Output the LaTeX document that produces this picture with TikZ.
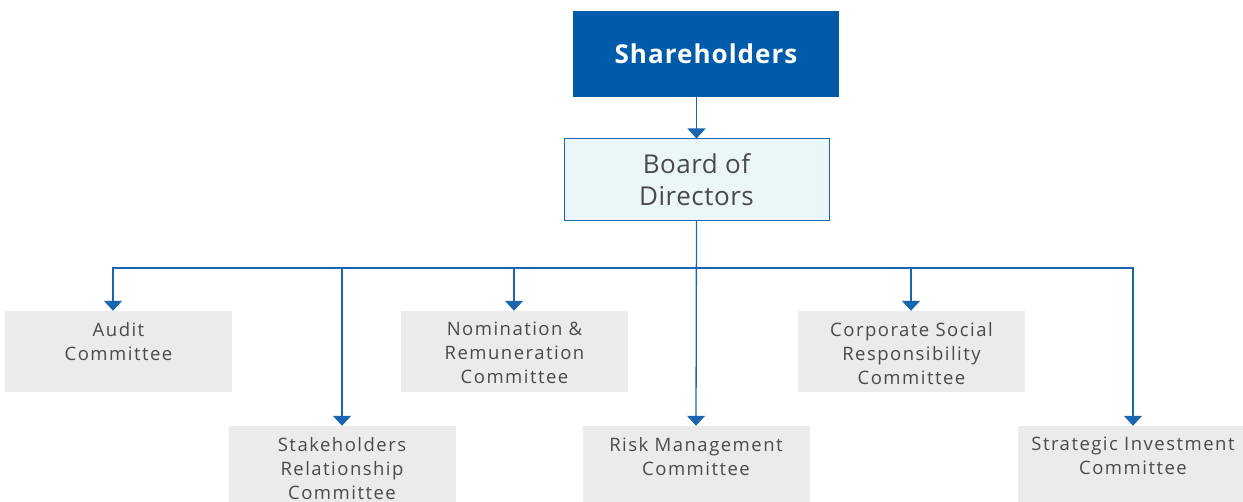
\documentclass[tikz,border=0pt]{standalone}
\usepackage{fontspec}
\setmainfont{Open Sans}
\usetikzlibrary{arrows.meta}
\definecolor{navy}{HTML}{005BAA}
\definecolor{lineblue}{HTML}{1A65B0}
\definecolor{boardfill}{HTML}{EBF6F8}
\definecolor{grayfill}{HTML}{EBEBEB}
\definecolor{txt}{HTML}{4A4A4A}
\begin{document}
\begin{tikzpicture}[x=1pt,y=-1pt,
  conn/.style={draw=lineblue, line width=1.3pt, -{Triangle[width=18pt,length=10pt]}},
  combox/.style={fill=grayfill, draw=none, minimum width=227pt, minimum height=81pt, inner sep=0pt},
  comtext/.style={anchor=north, inner sep=0pt, align=center, text=txt, font=\fontsize{18.5}{24}\selectfont\addfontfeatures{LetterSpace=8}},
]
\useasboundingbox (0,0) rectangle (1243,502);
\node[fill=navy, minimum width=266pt, minimum height=86pt, inner sep=0pt, text=white,
      font=\bfseries\fontsize{26}{30}\selectfont\addfontfeatures{LetterSpace=4}] (sh) at (706,54) {Shareholders};
\node[fill=boardfill, draw=lineblue, line width=1pt, minimum width=265pt, minimum height=82pt, inner sep=0pt,
      text=txt, align=center, font=\fontsize{26}{32}\selectfont\addfontfeatures{LetterSpace=2}] (board) at (696.5,180) {Board of\\Directors};
\coordinate (bus) at (0,268);
% committee boxes
\node[combox] (audit) at (118.5,351.5) {};
\node[combox] (stake) at (342,466.5) {};
\node[combox] (nom) at (514.5,351.5) {};
\node[combox] (risk) at (696,466.5) {};
\node[combox] (csr) at (911.5,351.5) {};
\node[combox, minimum width=230pt] (strat) at (1133,466.5) {};
% texts
\node[comtext, yshift=-11pt] (audittxt) at (audit.north) {Audit\\Committee};
\node[comtext, yshift=-11pt] (staketxt) at (stake.north) {Stakeholders\\Relationship\\Committee};
\node[comtext, yshift=-11pt] (nomtxt) at (nom.north) {Nomination \&\\Remuneration\\Committee};
\node[comtext, yshift=-11pt] (risktxt) at (risk.north) {Risk Management\\Committee};
\node[comtext, yshift=-11pt] (csrtxt) at (csr.north) {Corporate Social\\Responsibility\\Committee};
\node[comtext, yshift=-11pt] (strattxt) at (strat.north) {Strategic Investment\\Committee};
% connectors
\draw[conn] (sh.south -| board.north) -- (board.north);
\draw[conn] (board.south) -- (board.south |- bus) -| ([xshift=-5.5pt]audit.north);
\draw[conn] (board.south) -- (board.south |- bus) -| (stake.north);
\draw[conn] (board.south) -- (board.south |- bus) -| ([xshift=-0.5pt]nom.north);
\draw[conn] (board.south) -- (risk.north);
\draw[conn] (board.south) -- (board.south |- bus) -| ([xshift=-0.5pt]csr.north);
\draw[conn] (board.south) -- (board.south |- bus) -| (strat.north);
\end{tikzpicture}
\end{document}
